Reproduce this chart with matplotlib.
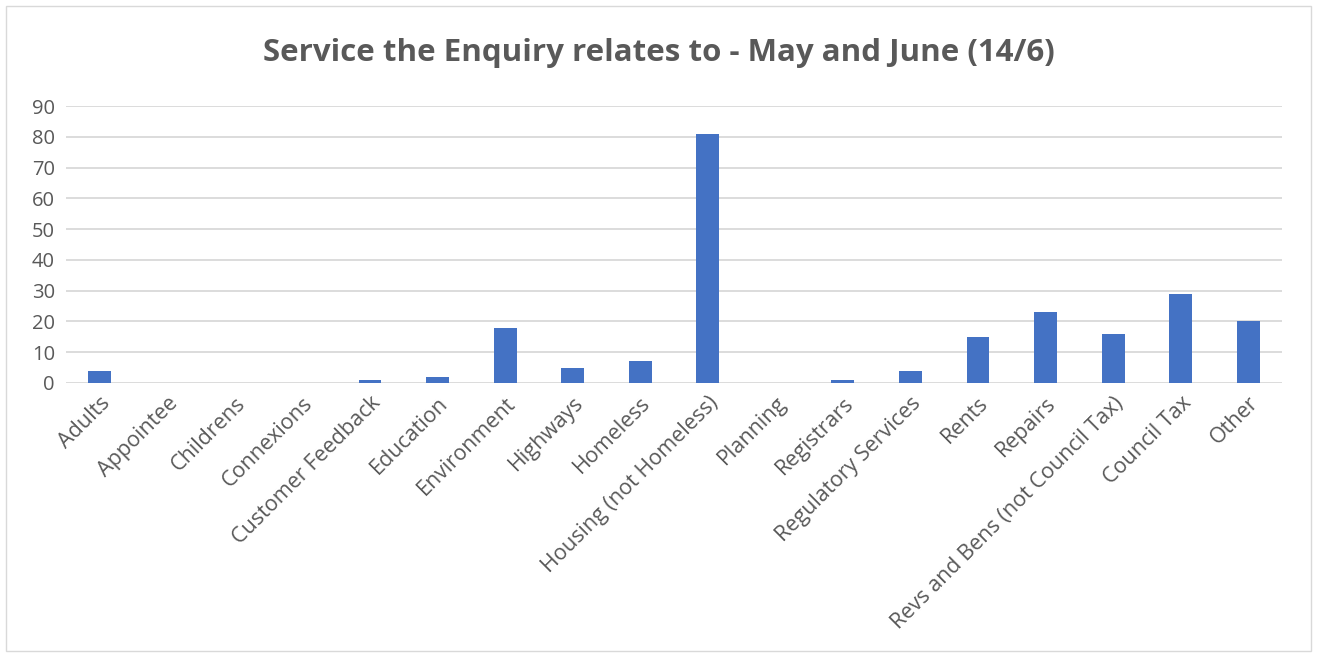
import numpy as np
import matplotlib.pyplot as plt
from matplotlib.patches import Rectangle

categories = ['Adults', 'Appointee', 'Childrens', 'Connexions', 'Customer Feedback',
              'Education', 'Environment', 'Highways', 'Homeless', 'Housing (not Homeless)',
              'Planning', 'Registrars', 'Regulatory Services', 'Rents', 'Repairs',
              'Revs and Bens (not Council Tax)', 'Council Tax', 'Other']
counts = [4, 0, 0, 0, 1, 2, 18, 5, 7, 81, 0, 1, 4, 15, 23, 16, 29, 20]
y_ticks = [0, 10, 20, 30, 40, 50, 60, 70, 80, 90]

plt.rcParams['font.family'] = ['Open Sans', 'DejaVu Sans']
text_col = '#595959'

fig = plt.figure(figsize=(13.17, 6.57), dpi=100)
# light outer border like the Excel chart area
fig.patches.append(Rectangle((6/1317, 6/657), 1305/1317, 645/657, transform=fig.transFigure,
                             fill=False, edgecolor='#D9D9D9', linewidth=1))
ax = fig.add_axes([66/1317, 1 - 383/657, (1282 - 66)/1317, (383 - 106)/657])

x = np.arange(len(categories))
ax.bar(x, counts, width=0.34, color='#4472C4', zorder=3)

ax.set_xlim(-0.5, len(categories) - 0.5)
ax.set_ylim(0, 90)
ax.set_yticks(y_ticks)
ax.yaxis.grid(True, color='#D9D9D9', linewidth=1.3, zorder=0)
for s in ax.spines.values():
    s.set_visible(False)
ax.tick_params(axis='y', length=0, labelsize=14.5, colors=text_col, pad=8)
ax.set_xticks(x)
ax.set_xticklabels(categories, rotation=45, ha='right', va='top', rotation_mode='anchor')
ax.tick_params(axis='x', length=0, labelsize=15.5, colors=text_col, pad=7)

fig.suptitle('Service the Enquiry relates to - May and June (14/6)', y=1 - 53/657, va='center',
             fontsize=22.5, fontweight='bold', color=text_col)

fig.savefig('out.png', dpi=100)
